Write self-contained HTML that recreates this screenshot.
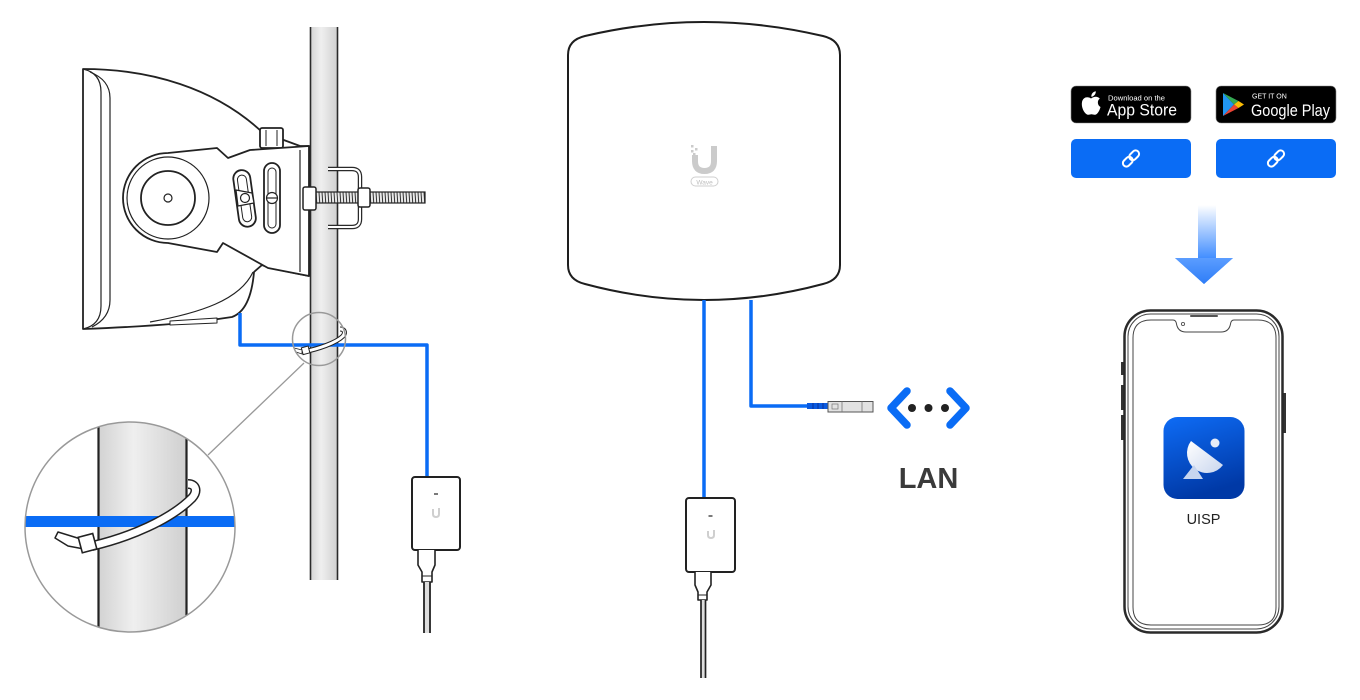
<!DOCTYPE html>
<html><head><meta charset="utf-8"><style>
html,body{margin:0;padding:0;background:#fff;}
svg{display:block;}
text{font-family:"Liberation Sans",sans-serif;}
</style></head><body>
<svg width="1360" height="700" viewBox="0 0 1360 700" xmlns="http://www.w3.org/2000/svg">
<defs>
<linearGradient id="pole" x1="0" x2="1" y1="0" y2="0">
<stop offset="0" stop-color="#d2d2d2"/><stop offset="0.4" stop-color="#efefef"/><stop offset="1" stop-color="#cfcfcf"/>
</linearGradient>
<linearGradient id="arrow" x1="0" x2="0" y1="0" y2="1">
<stop offset="0" stop-color="#ffffff"/><stop offset="1" stop-color="#3f8cff"/>
</linearGradient>
<linearGradient id="app" x1="0" x2="0.3" y1="0" y2="1">
<stop offset="0" stop-color="#0e6cf6"/><stop offset="1" stop-color="#0039a6"/>
</linearGradient>
<linearGradient id="dish" x1="0" x2="1" y1="0" y2="1">
<stop offset="0" stop-color="#ffffff"/><stop offset="1" stop-color="#c9d6ee"/>
</linearGradient>
<pattern id="thread" width="3" height="12" patternUnits="userSpaceOnUse">
<rect width="3" height="12" fill="#e8e8e8"/><line x1="1" y1="0" x2="1.8" y2="12" stroke="#333" stroke-width="1"/>
</pattern>
<clipPath id="bigc"><circle cx="130" cy="527" r="105"/></clipPath>
</defs>

<!-- ===== LEFT: pole ===== -->
<rect x="310" y="27" width="28" height="553" fill="url(#pole)"/>
<line x1="310.5" y1="27" x2="310.5" y2="580" stroke="#2a2a2a" stroke-width="1.6"/>
<line x1="337.5" y1="27" x2="337.5" y2="580" stroke="#2a2a2a" stroke-width="1.6"/>

<!-- device body -->
<g stroke="#222" stroke-width="1.8" fill="#fff" stroke-linejoin="round">
<path d="M83,69 C150,69 215,88 262,132 L300,146 L309,146 L309,276 L270,268 L262,265 L254,272 C252,295 246,312 232,317 C200,322 160,326 83,329 Z"/>
<path d="M83,69 Q101,73 101,92 L101,306 Q101,325 83,329" fill="none" stroke-width="1.2"/>
<path d="M90,72 Q110,80 110,98 L110,300 Q110,318 92,327" fill="none" stroke-width="1.2"/>
<path d="M150,322 C200,313 240,300 253,272" fill="none" stroke-width="1.2"/>
<path d="M170,321 L217,318 L217,323 L170,325 Z" stroke-width="1"/>
<!-- knob -->
<rect x="260" y="128" width="23" height="20" rx="2"/>
<line x1="266" y1="130" x2="266" y2="146" stroke-width="1"/>
<line x1="277" y1="130" x2="277" y2="146" stroke-width="1"/>
<!-- bracket -->
<path d="M168,153 L217,148 L228,158 L250,150 L309,146 L309,276 L268,268 L223,243 L217,252 L168,243 A45,45 0 0 1 168,153 Z"/>
<line x1="300" y1="150" x2="300" y2="272" stroke-width="1.2"/>
<circle cx="168" cy="198" r="41" fill="none" stroke-width="1.2"/>
<circle cx="168" cy="198" r="27"/>
<circle cx="168" cy="198" r="4" stroke-width="1.2"/>
<!-- curved slot -->
<rect x="236" y="170" width="17" height="57" rx="8.5" transform="rotate(-8 244 198)"/>
<rect x="240" y="175" width="9" height="47" rx="4.5" transform="rotate(-8 244 198)" stroke-width="1"/>
<path d="M236,190 L252,193 L254,203 L238,206 Z" stroke-width="1.2"/>
<circle cx="245" cy="198" r="4.5" stroke-width="1.2"/>
<!-- straight slot -->
<rect x="264" y="163" width="16" height="70" rx="8"/>
<rect x="268" y="168" width="8" height="60" rx="4" stroke-width="1"/>
<circle cx="272" cy="198" r="5.5" stroke-width="1.2"/>
<line x1="266.5" y1="198" x2="277.5" y2="198" stroke-width="1.2"/>
</g>

<!-- U bracket and bolt -->
<path d="M328,169 L352,169 Q360,169 360,177 L360,219 Q360,227 352,227 L328,227" fill="none" stroke="#2a2a2a" stroke-width="4.5"/>
<path d="M328,169 L352,169 Q360,169 360,177 L360,219 Q360,227 352,227 L328,227" fill="none" stroke="#fff" stroke-width="2"/>
<rect x="315" y="192" width="110" height="11" fill="url(#thread)" stroke="#222" stroke-width="1.2"/>
<rect x="303" y="187" width="13" height="23" rx="2" fill="#fff" stroke="#222" stroke-width="1.5"/>
<rect x="358" y="188" width="12" height="19" rx="2" fill="#fff" stroke="#222" stroke-width="1.5"/>

<!-- left blue cable -->
<path d="M240,313 L240,345 L427,345 L427,477" fill="none" stroke="#0a6cf5" stroke-width="3.5" stroke-linejoin="round"/>
<!-- small tie -->
<path d="M303,352 C318,349 336,343 343,336 C346,332 344,329 340,329" fill="none" stroke="#222" stroke-width="5"/>
<path d="M303,352 C318,349 336,343 343,336 C346,332 344,329 340,329" fill="none" stroke="#fff" stroke-width="3"/>
<rect x="302" y="347" width="7" height="7" fill="#fff" stroke="#222" stroke-width="1" transform="rotate(-15 305 350)"/>
<path d="M302,350 L294,348 L296,352 L302,354 Z" fill="#fff" stroke="#222" stroke-width="0.8"/>
<circle cx="319" cy="339" r="26.5" fill="none" stroke="#999" stroke-width="1.5"/>
<line x1="208" y1="455" x2="304" y2="363" stroke="#999" stroke-width="1.3"/>

<!-- big circle inset -->
<g clip-path="url(#bigc)">
<rect x="20" y="420" width="220" height="220" fill="#fff"/>
<rect x="98" y="420" width="89" height="220" fill="url(#pole)"/>
<line x1="98.5" y1="420" x2="98.5" y2="640" stroke="#222" stroke-width="2.2"/>
<line x1="186.5" y1="420" x2="186.5" y2="640" stroke="#222" stroke-width="2.2"/>
<rect x="20" y="516" width="220" height="11" fill="#0a6cf5"/>
<path d="M92,546 C130,537 170,520 192,498 C198,491 196,484 188,484" fill="none" stroke="#222" stroke-width="10"/>
<path d="M92,546 C130,537 170,520 192,498 C198,491 196,484 188,484" fill="none" stroke="#fff" stroke-width="7"/>
<path d="M84,540 L58,532 L55,538 L68,546 L84,549 Z" fill="#fff" stroke="#222" stroke-width="1.5" stroke-linejoin="round"/>
<rect x="80" y="535" width="15" height="16" fill="#fff" stroke="#222" stroke-width="1.6" transform="rotate(-15 88 543)"/>
</g>
<circle cx="130" cy="527" r="105" fill="none" stroke="#999" stroke-width="1.5"/>

<!-- left PoE -->
<rect x="412" y="477" width="48" height="73" rx="3" fill="#fff" stroke="#222" stroke-width="2"/>
<line x1="434" y1="494" x2="438" y2="494" stroke="#333" stroke-width="1.3"/>
<path d="M433,509 L433,514 Q433,517 436,517 Q439,517 439,514 L439,508" fill="none" stroke="#cfcfcf" stroke-width="2"/>
<path d="M418,550 L418,565 L422,572 L422,582 L432,582 L432,572 L435,565 L435,550" fill="#fff" stroke="#222" stroke-width="1.6" stroke-linejoin="round"/>
<line x1="422" y1="576" x2="432" y2="576" stroke="#222" stroke-width="1"/>
<rect x="424" y="582" width="6" height="51" fill="#ddd"/>
<line x1="424" y1="582" x2="424" y2="633" stroke="#222" stroke-width="1.8"/>
<line x1="430" y1="582" x2="430" y2="633" stroke="#222" stroke-width="1.8"/>

<!-- ===== CENTER device ===== -->
<path d="M568,55 Q568,40 585,36 Q704,8 823,36 Q840,40 840,55 L840,265 Q840,280 823,284 Q704,316 585,284 Q568,280 568,265 Z" fill="#fff" stroke="#1e1e1e" stroke-width="2"/>
<path d="M695,155 L695,161 Q695,171 704.5,171 Q714,171 714,161 L714,146" fill="none" stroke="#cbcbcb" stroke-width="6"/>
<rect x="691" y="145" width="2.5" height="2.5" fill="#cbcbcb"/><rect x="695" y="148" width="2.5" height="2.5" fill="#cbcbcb"/>
<rect x="691" y="150" width="2.5" height="2.5" fill="#cbcbcb"/><rect x="693" y="153" width="2.5" height="2.5" fill="#cbcbcb"/>
<rect x="691" y="177" width="27" height="9" rx="4.5" fill="none" stroke="#cfcfcf" stroke-width="1"/>
<text x="704.5" y="184.3" font-size="6.5" fill="#bdbdbd" text-anchor="middle">Wave</text>

<!-- center blue cables -->
<line x1="704" y1="300" x2="704" y2="498" stroke="#0a6cf5" stroke-width="3.5"/>
<path d="M751,300 L751,406 L808,406" fill="none" stroke="#0a6cf5" stroke-width="3.5" stroke-linejoin="round"/>
<rect x="807" y="403" width="21" height="6" fill="#0a5ae0"/>
<line x1="813" y1="403" x2="813" y2="409" stroke="#08339a" stroke-width="1"/>
<line x1="818" y1="403" x2="818" y2="409" stroke="#08339a" stroke-width="1"/>
<line x1="823" y1="403" x2="823" y2="409" stroke="#08339a" stroke-width="1"/>
<rect x="828" y="401.5" width="45" height="10.5" fill="#e2e2e2" stroke="#555" stroke-width="1"/>
<line x1="842" y1="401.5" x2="842" y2="412" stroke="#777" stroke-width="0.8"/>
<line x1="862" y1="401.5" x2="862" y2="412" stroke="#777" stroke-width="0.8"/>
<rect x="832" y="404" width="6" height="5" fill="none" stroke="#777" stroke-width="0.7"/>

<!-- LAN icon -->
<path d="M907,391 L891,408 L907,425" fill="none" stroke="#0a6cf5" stroke-width="7.5" stroke-linecap="round" stroke-linejoin="round"/>
<path d="M950,391 L966,408 L950,425" fill="none" stroke="#0a6cf5" stroke-width="7.5" stroke-linecap="round" stroke-linejoin="round"/>
<circle cx="912" cy="408" r="4" fill="#222"/>
<circle cx="928.5" cy="408" r="4" fill="#222"/>
<circle cx="945" cy="408" r="4" fill="#222"/>
<text x="928.5" y="488" font-size="29" font-weight="bold" fill="#3a3a3a" text-anchor="middle">LAN</text>

<!-- center PoE -->
<rect x="686" y="498" width="49" height="74" rx="3" fill="#fff" stroke="#222" stroke-width="2"/>
<line x1="708.5" y1="516" x2="712.5" y2="516" stroke="#333" stroke-width="1.3"/>
<path d="M708,531 L708,535 Q708,538 711,538 Q714,538 714,535 L714,530" fill="none" stroke="#cfcfcf" stroke-width="2"/>
<path d="M695,572 L695,585 L698,592 L698,600 L707,600 L707,592 L711,585 L711,572" fill="#fff" stroke="#222" stroke-width="1.6" stroke-linejoin="round"/>
<line x1="698" y1="595" x2="707" y2="595" stroke="#222" stroke-width="1"/>
<rect x="701" y="600" width="4" height="78" fill="#ddd"/>
<line x1="701" y1="600" x2="701" y2="678" stroke="#222" stroke-width="1.7"/>
<line x1="705.5" y1="600" x2="705.5" y2="678" stroke="#222" stroke-width="1.7"/>

<!-- ===== RIGHT: store badges ===== -->
<rect x="1071" y="86" width="120" height="37" rx="5" fill="#000" stroke="#888" stroke-width="0.6"/>
<path d="M1091,98.5 C1087,96 1083,97.5 1082,102 C1081,107 1084,113 1087,114.5 C1089,115.3 1090,114.3 1091.5,114.3 C1093,114.3 1094,115.3 1096,114.5 C1098.5,113 1100,109 1100.5,107 C1097.5,105.5 1096.8,100.5 1099.8,98.6 C1097.5,96 1094,96.3 1091,98.5 Z" fill="#fff"/>
<path d="M1091.3,96.8 C1091.2,93.8 1093.2,91.6 1095.8,91.3 C1096,94.2 1093.8,96.6 1091.3,96.8 Z" fill="#fff"/>
<text x="1108" y="100.5" font-size="7.6" fill="#fff">Download on the</text>
<text x="1107" y="115.5" font-size="16.5" fill="#fff" textLength="70" lengthAdjust="spacingAndGlyphs">App Store</text>

<rect x="1216" y="86" width="120" height="37" rx="5" fill="#000" stroke="#888" stroke-width="0.6"/>
<polygon points="1223,93 1223,116 1234,104.5" fill="#2196f3"/>
<polygon points="1223,93 1238.5,101 1234,104.5" fill="#34a853"/>
<polygon points="1223,116 1234,104.5 1238.5,108" fill="#ea4335"/>
<polygon points="1238.5,101 1244,104.5 1238.5,108 1234,104.5" fill="#fbbc04"/>
<text x="1252" y="98.5" font-size="7" fill="#fff">GET IT ON</text>
<text x="1251" y="116" font-size="16.5" fill="#fff" textLength="79" lengthAdjust="spacingAndGlyphs">Google Play</text>

<rect x="1071" y="139" width="120" height="39" rx="5" fill="#0a6cf5"/>
<rect x="1216" y="139" width="120" height="39" rx="5" fill="#0a6cf5"/>
<g transform="translate(1131 158.5) rotate(-45)" fill="none" stroke="#fff" stroke-width="2">
<rect x="-10" y="-3.5" width="11" height="7" rx="3.5"/><rect x="-1" y="-3.5" width="11" height="7" rx="3.5"/>
</g>
<g transform="translate(1276 158.5) rotate(-45)" fill="none" stroke="#fff" stroke-width="2">
<rect x="-10" y="-3.5" width="11" height="7" rx="3.5"/><rect x="-1" y="-3.5" width="11" height="7" rx="3.5"/>
</g>

<!-- arrow -->
<rect x="1198" y="205" width="18" height="54" fill="url(#arrow)"/>
<polygon points="1175,258 1233,258 1204,284" fill="#4a93ff"/>
<linearGradient id="arrowhead" x1="0" x2="0" y1="0" y2="1"><stop offset="0" stop-color="#5b9dff"/><stop offset="1" stop-color="#2e7df7"/></linearGradient>
<polygon points="1175,258 1233,258 1204,284" fill="url(#arrowhead)"/>

<!-- phone -->
<rect x="1121" y="362" width="3" height="13" fill="#333"/>
<rect x="1121" y="385" width="3" height="25" fill="#333"/>
<rect x="1121" y="415" width="3" height="25" fill="#333"/>
<rect x="1283" y="393" width="3" height="40" fill="#333"/>
<rect x="1124.5" y="310.5" width="158" height="322" rx="26" fill="#fff" stroke="#2a2a2a" stroke-width="2.5"/>
<rect x="1128" y="314" width="151" height="315" rx="22.5" fill="none" stroke="#444" stroke-width="1"/>
<path d="M1151,320 L1173,320 Q1176,320 1176.5,324 Q1178,332 1186,332 L1221,332 Q1229,332 1230.5,324 Q1231,320 1234,320 L1258,320 Q1276,320 1276,338 L1276,607 Q1276,625 1258,625 L1151,625 Q1133,625 1133,607 L1133,338 Q1133,320 1151,320 Z" fill="#fff" stroke="#444" stroke-width="1"/>
<line x1="1191" y1="316" x2="1217" y2="316" stroke="#555" stroke-width="2" stroke-linecap="round"/>
<circle cx="1183" cy="324" r="1.6" fill="none" stroke="#555" stroke-width="0.9"/>

<rect x="1163.5" y="417" width="81" height="82" rx="14" fill="url(#app)"/>
<path d="M1191,441 A20,20 0 0 0 1223,465 Z" fill="url(#dish)"/>
<circle cx="1215" cy="443" r="4.5" fill="#e6ecf7"/>
<polygon points="1183,479 1194,465 1203,479" fill="#c7d5ef"/>
<text x="1203.5" y="524" font-size="14.5" fill="#222" text-anchor="middle">UISP</text>
</svg>
</body></html>
